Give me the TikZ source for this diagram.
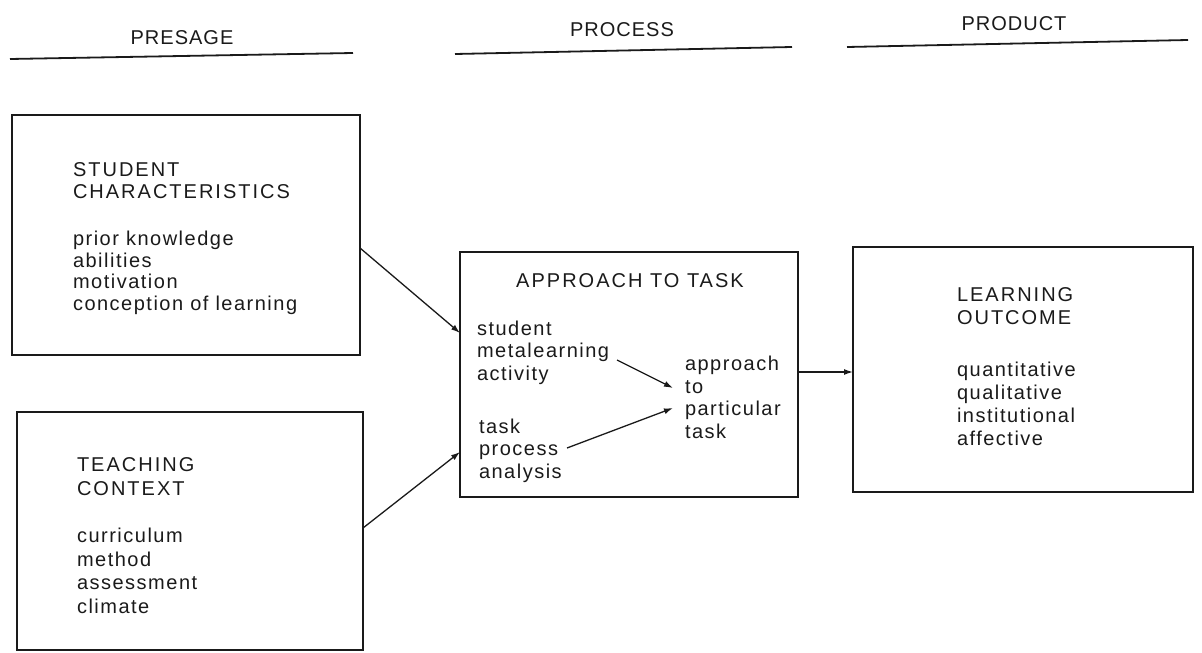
\documentclass[tikz,border=0pt]{standalone}
\usepackage{fontspec}
\setmainfont{Liberation Sans}
\newfontfamily\capfont[LetterSpace=10]{Liberation Sans}
\newfontfamily\lowfont[LetterSpace=7.5]{Liberation Sans}
\newfontfamily\hdfont[LetterSpace=5]{Liberation Sans}
\usetikzlibrary{arrows.meta,calc}
\definecolor{ink}{HTML}{1A1A1A}
\begin{document}
\begin{tikzpicture}[x=1pt,y=-1pt,
  boxnode/.style={draw=ink, line width=1.5pt, inner sep=0pt, outer sep=0pt},
  txt/.style={anchor=north west, inner sep=0pt, outer sep=0pt, align=left, text=ink},
  hdr/.style={inner sep=0pt, text=ink, font=\hdfont\fontsize{20}{24}\selectfont},
  hline/.style={draw=ink, line width=1.8pt},
  arr/.style={draw=ink, line width=1.3pt, -{Latex[length=9pt,width=6pt]}}]
\useasboundingbox (0,0) rectangle (1202,653);
% headers
\node[hdr] (presage) at (182,37.5) {PRESAGE};
\node[hdr] (process) at (622,29.5) {PROCESS};
\node[hdr] (product) at (1014,24) {PRODUCT};
\draw[hline] (10,59) -- (353,53);
\draw[hline] (455,54) -- (792,47);
\draw[hline] (847,47) -- (1188,40);
% boxes
\node[boxnode, minimum width=348pt, minimum height=240pt] (stud) at (186,235) {};
\node[boxnode, minimum width=346pt, minimum height=238pt] (teach) at (190,531) {};
\node[boxnode, minimum width=338pt, minimum height=245pt] (appr) at (629,374.5) {};
\node[boxnode, minimum width=340pt, minimum height=245pt] (outc) at (1023,369.5) {};
% texts
\node[txt, font=\fontsize{20}{21.5}\selectfont] (studtxt) at (73,163)
  {\capfont STUDENT\\\capfont CHARACTERISTICS\\[26pt]\lowfont prior knowledge\\\lowfont abilities\\\lowfont motivation\\\lowfont conception of learning};
\node[txt, font=\fontsize{20}{23.5}\selectfont] (teachtxt) at (77,458)
  {\capfont TEACHING\\\capfont CONTEXT\\[24pt]\lowfont curriculum\\\lowfont method\\\lowfont assessment\\\lowfont climate};
\node[inner sep=0pt, anchor=north, text=ink, font=\capfont\fontsize{20}{23}\selectfont] (apprtitle) at (630,273) {APPROACH TO TASK};
\node[txt, font=\fontsize{20}{22.5}\selectfont] (meta) at (477,321)
  {\lowfont student\\\lowfont metalearning\\\lowfont activity};
\node[txt, font=\fontsize{20}{22.5}\selectfont] (tpa) at (479,419)
  {\lowfont task\\\lowfont process\\\lowfont analysis};
\node[txt, font=\fontsize{20}{22.7}\selectfont] (apt) at (685,356)
  {\lowfont approach\\\lowfont to\\\lowfont particular\\\lowfont task};
\node[txt, font=\fontsize{20}{23}\selectfont] (outtxt) at (957,288)
  {\capfont LEARNING\\\capfont OUTCOME\\[29pt]\lowfont quantitative\\\lowfont qualitative\\\lowfont institutional\\\lowfont affective};
% connectors
\draw[arr] ([yshift=-13pt]stud.east) -- ([yshift=41.5pt]appr.west);
\draw[arr] ([yshift=3pt]teach.east) -- ([yshift=-77.5pt]appr.west);
\draw[arr] ([yshift=2.5pt]appr.east) -- ([yshift=-2.5pt]outc.west);
\draw[arr] ($(appr.north west)+(157,108)$) -- ($(appr.north west)+(213,136)$);
\draw[arr] ($(appr.north west)+(107,196)$) -- ($(appr.north west)+(213,156)$);
\end{tikzpicture}
\end{document}
